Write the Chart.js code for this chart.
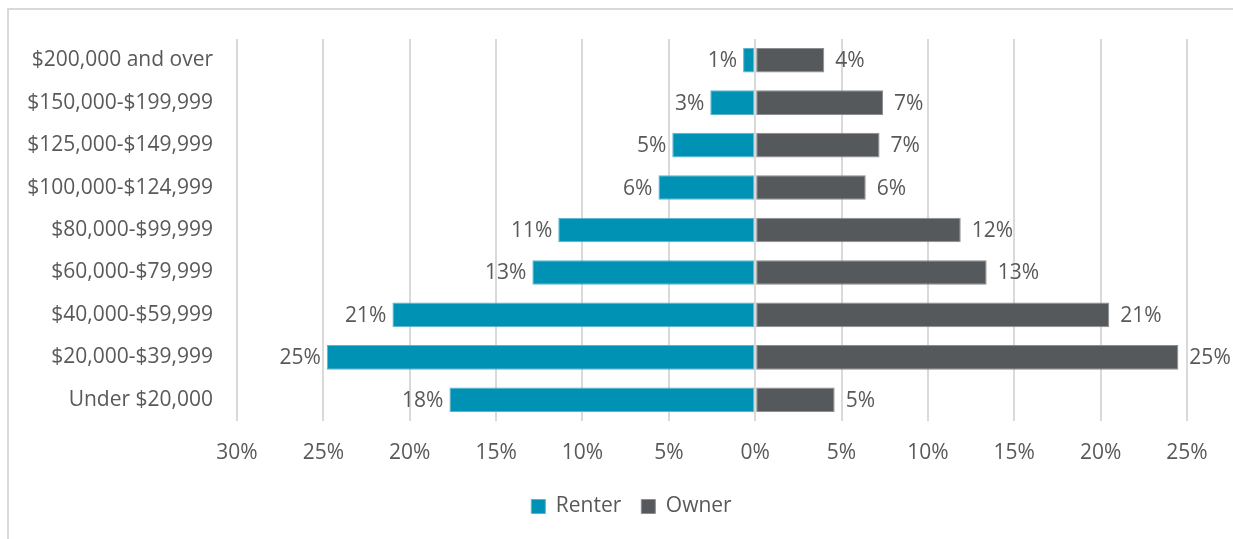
<!DOCTYPE html>
<html>
<head>
<meta charset="utf-8">
<title>Household income by tenure</title>
<script src="https://cdn.jsdelivr.net/npm/chart.js@4.4.1/dist/chart.umd.min.js"></script>
<style>
  html, body { margin: 0; padding: 0; background: #fff; overflow: hidden; }
  #wrap { position: relative; width: 1233px; height: 539px; }
  #frame {
    position: absolute; left: 7px; top: 8px; width: 1300px; height: 600px;
    border-left: 2px solid #d9d9d9; border-top: 2px solid #d9d9d9;
  }
  #income-canvas { position: absolute; left: 0; top: 0; }
</style>
</head>
<body>
<div id="wrap">
  <div id="frame"></div>
  <canvas id="income-canvas" width="1233" height="539"></canvas>
</div>
<script>
const incomeBands = [
  '$200,000 and over',
  '$150,000-$199,999',
  '$125,000-$149,999',
  '$100,000-$124,999',
  '$80,000-$99,999',
  '$60,000-$79,999',
  '$40,000-$59,999',
  '$20,000-$39,999',
  'Under $20,000'
];
// share of households in each band, percent
const renterShare = [0.7, 2.6, 4.8, 5.6, 11.4, 12.9, 21.0, 24.8, 17.7];
const ownerShare = [4.0, 7.4, 7.2, 6.4, 11.9, 13.4, 20.5, 24.5, 4.6];
const axisMin = -30;
const axisMax = 25;
const axisStep = 5;

const textColor = '#595959';
const fontFamily = '"Open Sans", Lato, sans-serif';
const fontSize = 21;
Chart.defaults.font.family = fontFamily;
Chart.defaults.font.size = fontSize;
Chart.defaults.color = textColor;

const pctText = v => Math.round(Math.abs(v)) + '%';

// value labels at the outer end of every bar
const barLabels = {
  id: 'barLabels',
  afterDatasetsDraw(chart) {
    const ctx = chart.ctx;
    ctx.save();
    ctx.font = fontSize + 'px ' + fontFamily;
    ctx.fillStyle = textColor;
    ctx.textBaseline = 'middle';
    chart.data.datasets.forEach((ds, di) => {
      chart.getDatasetMeta(di).data.forEach((bar, i) => {
        const v = ds.data[i];
        if (v < 0) {
          ctx.textAlign = 'right';
          ctx.fillText(pctText(v), bar.x - 6, bar.y + 1);
        } else {
          ctx.textAlign = 'left';
          ctx.fillText(pctText(v), bar.x + 11, bar.y + 1);
        }
      });
    });
    ctx.restore();
  }
};

// legend sits a little right of the canvas centre, under the plot
const legendShift = {
  id: 'legendShift',
  afterLayout(chart) {
    if (!chart.legend) return;
    chart.legend.left += 38;
    chart.legend.right += 38;
  }
};

const incomeChart = new Chart('income-canvas', {
  type: 'bar',
  data: {
    labels: incomeBands,
    datasets: [{
      label: 'Renter',
      data: renterShare.map(v => -v),
      backgroundColor: '#0092b4',
      borderColor: '#5bb4cc',
      borderWidth: 1,
      borderSkipped: false
    }, {
      label: 'Owner',
      data: ownerShare,
      backgroundColor: '#56595c',
      borderColor: '#8b8d90',
      borderWidth: 1,
      borderSkipped: false
    }]
  },
  options: {
    indexAxis: 'y',
    responsive: false,
    animation: false,
    devicePixelRatio: 1,
    barPercentage: 0.58,
    categoryPercentage: 1,
    layout: { padding: { top: 39, right: 46, left: 0, bottom: 12 } },
    scales: {
      x: {
        stacked: true,
        min: axisMin,
        max: axisMax,
        ticks: { stepSize: axisStep, padding: 19, callback: v => pctText(v) },
        grid: { color: '#d9d9d9', lineWidth: 2, drawTicks: false },
        border: { display: false },
        afterFit(scale) { scale.height = 55; }
      },
      y: {
        stacked: true,
        ticks: { padding: 24 },
        grid: { display: false, drawTicks: false },
        border: { display: false },
        afterFit(scale) { scale.width = 237; }
      }
    },
    plugins: {
      legend: {
        position: 'bottom',
        labels: { boxWidth: 14, boxHeight: 14, padding: 20, color: textColor, font: { size: fontSize } }
      },
      tooltip: { enabled: false }
    }
  },
  plugins: [barLabels, legendShift]
});
</script>
</body>
</html>
